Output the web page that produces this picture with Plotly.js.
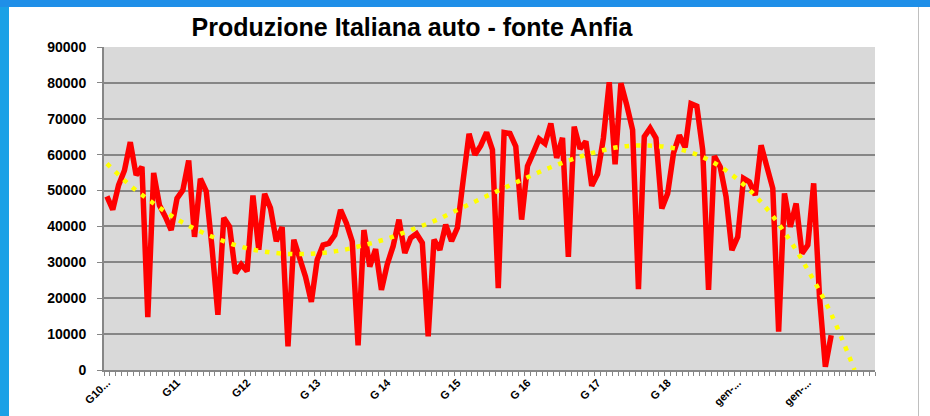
<!DOCTYPE html>
<html><head><meta charset="utf-8">
<script src="https://cdn.plot.ly/plotly-3.0.1.min.js"></script>
<style>
html,body{margin:0;padding:0;background:#fff;}
#frame{position:absolute;left:0;top:0;width:930px;height:416px;background:#fff;overflow:hidden;}
#chart{position:absolute;left:0;top:0;width:930px;height:416px;}
#lbar{position:absolute;left:0;top:0;width:9px;height:416px;background:#1BA1E6;}
#tbar{position:absolute;left:0;top:0;width:930px;height:7px;background:#1F8FE8;}
#rline{position:absolute;left:918px;top:7px;width:1px;height:409px;background:#BFBFBF;}
</style></head><body>
<div id="frame"><div id="chart"></div><div id="lbar"></div><div id="tbar"></div><div id="rline"></div></div>
<script>
// Monthly Italian car production (Jan 2010 = index 0)
const production = [
  48400, 44700, 51500, 55600, 63500, 54300, 56600, 14700, 54900, 45900, 42700, 39000,
  47800, 50100, 58400, 37100, 53300, 49800, 34000, 15400, 42400, 39900, 27000, 29400,
  27500, 48600, 33500, 49100, 45100, 35900, 39800, 6600, 36300, 31600, 26000, 19000,
  30700, 34800, 35300, 37600, 44600, 40900, 35800, 6900, 39000, 28800, 33700, 22300,
  29500, 34500, 41900, 32600, 36800, 38000, 35400, 9400, 36300, 33500, 40500, 35900,
  39600, 53000, 65800, 60000, 62500, 66200, 61400, 22800, 66200, 65900, 62300, 41900,
  56800, 60500, 64400, 63100, 68700, 59100, 64700, 31500, 67800, 61600, 63700, 51300,
  54600, 64600, 80200, 57300, 79900, 73800, 66900, 22500, 65000, 67400, 64600, 45000,
  49200, 60400, 65400, 62000, 74200, 73500, 61300, 22300, 59600, 56600, 48300, 33400,
  37100, 53400, 52400, 48700, 62600, 56600, 50600, 10700, 49200, 39900, 46400, 32500,
  34800, 52000, 20400, 900, 9700
];
// Polynomial trend line, every 4 months
const trendMonths = [0,4,8,12,16,20,24,28,32,36,40,44,48,52,56,60,64,68,72,76,80,84,88,92,96,100,104,108,112,116,120,124,128];
const trendValues = [57500,51400,46400,42000,38600,35900,33900,32750,32300,32500,33300,34800,36600,39000,41500,44600,47700,50700,53700,56500,58900,60850,62200,62550,62100,60600,57700,53100,46800,38400,27900,15600,0];
// Axis labels
const tickPositions = [0,12,24,36,48,60,72,84,96,108,120];
const tickLabels = ['G10...','G11','G12','G 13','G 14','G 15','G 16','G 17','G 18','gen-...','gen-...'];
const yTicks = [0,10000,20000,30000,40000,50000,60000,70000,80000,90000];

const monthIndex = production.map((v, i) => i);
const FONT = 'Liberation Sans, Arial, sans-serif';

const traces = [
  {x: monthIndex, y: production, type: 'scatter', mode: 'lines',
   line: {color: '#FF0000', width: 5.5}, hoverinfo: 'skip'},
  {x: trendMonths, y: trendValues, type: 'scatter', mode: 'lines',
   line: {color: '#FFFF00', width: 4.5, dash: '4.5px,7px', shape: 'spline'}, hoverinfo: 'skip'}
];

const layout = {
  width: 930, height: 416,
  margin: {l: 104, r: 55, t: 47, b: 46, pad: 0},
  paper_bgcolor: 'rgba(0,0,0,0)',
  plot_bgcolor: '#D9D9D9',
  showlegend: false,
  title: {text: 'Produzione Italiana auto - fonte Anfia', xref: 'container', yref: 'container',
          x: 0.443, xanchor: 'center', y: 0.935, yanchor: 'middle',
          font: {family: FONT, size: 25, color: '#000', weight: 'bold'}},
  xaxis: {range: [-0.5, 131.5], tickmode: 'array', tickvals: tickPositions, ticktext: tickLabels,
          tickangle: -45, ticks: '', showgrid: false, zeroline: false,
          showline: true, linecolor: '#868686', linewidth: 2,
          minor: {ticks: 'outside', tick0: -0.5, dtick: 1, ticklen: 4, tickcolor: '#868686', tickwidth: 1, showgrid: false},
          tickfont: {family: FONT, size: 11, color: '#000', weight: 'bold'}, fixedrange: true},
  yaxis: {range: [0, 90000], tickmode: 'array', tickvals: yTicks, tickformat: 'd',
          showgrid: true, gridcolor: '#868686', gridwidth: 2, zeroline: false,
          showline: true, linecolor: '#868686', linewidth: 2,
          ticks: 'outside', ticklen: 5, tickcolor: '#868686', tickwidth: 1, ticklabelstandoff: 8,
          tickfont: {family: FONT, size: 14, color: '#000', weight: 'bold'}, fixedrange: true}
};

Plotly.newPlot('chart', traces, layout, {displayModeBar: false, staticPlot: true});
</script>
</body></html>
